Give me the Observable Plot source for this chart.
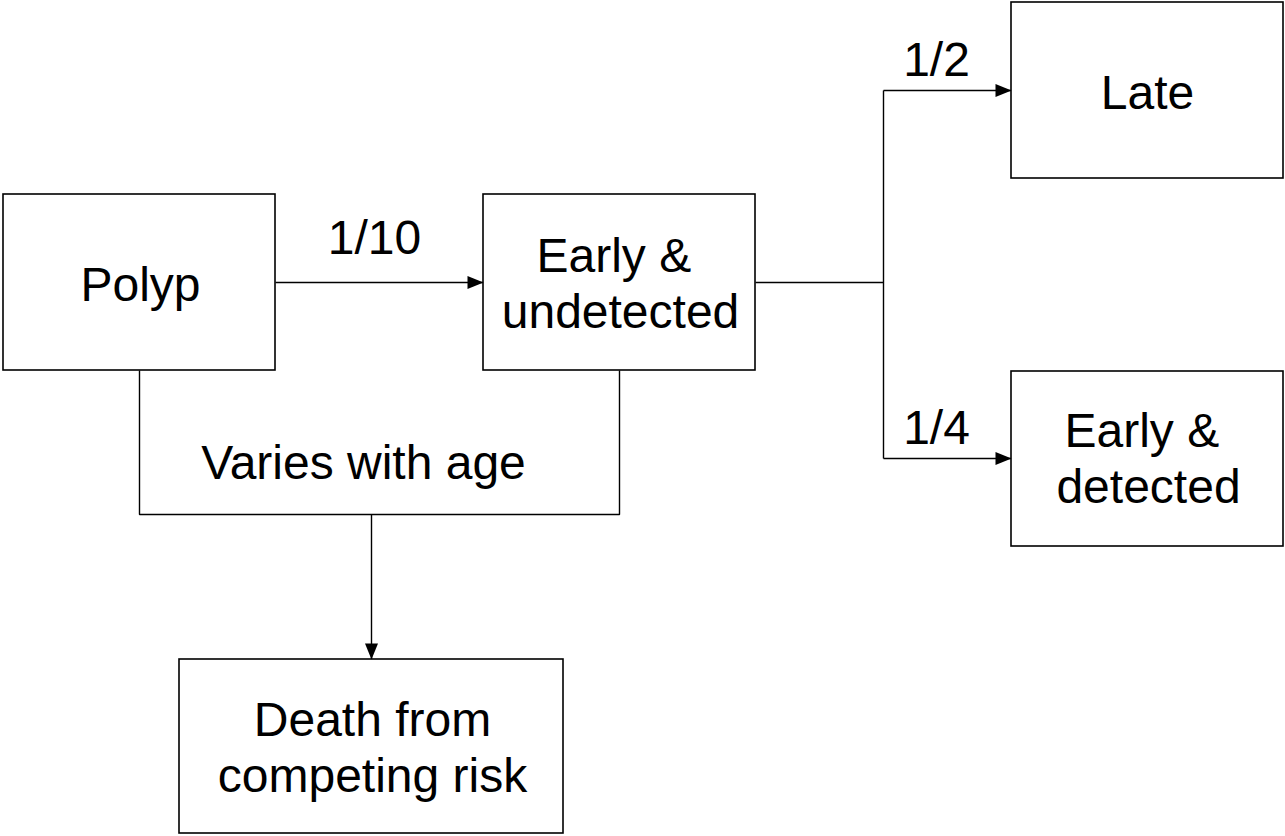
<!DOCTYPE html>
<html>
<head>
<meta charset="utf-8">
<script src="https://cdn.jsdelivr.net/npm/d3@7"></script>
<script src="https://cdn.jsdelivr.net/npm/@observablehq/plot@0.6"></script>
<style>
  html, body { margin: 0; padding: 0; background: #fff; }
  svg { display: block; }
</style>
</head>
<body>
<div id="chart"></div>
<script>
// Diagram nodes (diagram coordinate units)
const nodeIds   = ["polyp", "early_u", "late", "early_d", "death"];
const nodeX0    = [3, 483, 1011, 1011, 179];
const nodeX1    = [275, 755, 1283, 1283, 563];
const nodeY0    = [194, 194, 2, 371, 659];
const nodeY1    = [370, 370, 178, 546, 833];
const nodeLines = [["Polyp"], ["Early & ", "undetected"], ["Late"], ["Early & ", "detected"], ["Death from", "competing risk"]];
const nodeCx    = [140, 620, 1147, 1148, 372];
const nodeBase  = [300, 271, 108, 446, 735];

// Connectors (polylines) and which ones end in an arrowhead
const connectorPts = [
  [[275, 282], [483, 282]],
  [[755, 282], [883, 282]],
  [[883, 90], [883, 458]],
  [[883, 90], [1011, 90]],
  [[883, 458], [1011, 458]],
  [[139, 370], [139, 514], [619, 514], [619, 370]],
  [[371, 514], [371, 659]]
];
const connectorArrow = [90, null, null, 90, 90, null, 180];

// Transition labels
const rateLabels = ["1/10", "1/2", "1/4", "Varies with age"];
const rateX      = [374, 936, 936, 363];
const rateY      = [253, 75, 443, 478];

const lineHeight = 56;
const fontSize = 48;
const font = "'Liberation Sans', Arial, Helvetica, sans-serif";

const nodes = nodeIds.map((id, i) => ({id, x0: nodeX0[i], x1: nodeX1[i], y0: nodeY0[i], y1: nodeY1[i]}));
const nodeText = nodeIds.flatMap((id, i) => nodeLines[i].map((t, j) => ({text: t, x: nodeCx[i], y: nodeBase[i] + j * lineHeight})));
const linePts = connectorPts.flatMap((pts, i) => pts.map(([x, y]) => ({k: i, x, y})));
const heads = connectorPts.map((pts, i) => ({pt: pts[pts.length - 1], rot: connectorArrow[i]}))
  .filter(d => d.rot != null).map(d => ({x: d.pt[0], y: d.pt[1], rot: d.rot}));
const rates = rateLabels.map((t, i) => ({text: t, x: rateX[i], y: rateY[i]}));

const arrowSymbol = {
  draw(context) {
    const L = 16, W = 6.5;
    context.moveTo(0, 0);
    context.lineTo(-W, L);
    context.lineTo(W, L);
    context.closePath();
  }
};

const plot = Plot.plot({
  width: 1285,
  height: 836,
  margin: 0,
  x: {domain: [0, 1285], range: [0, 1285], axis: null},
  y: {domain: [0, 836], range: [0, 836], axis: null},
  style: {background: "#fff", fontFamily: font},
  marks: [
    Plot.line(linePts, {x: "x", y: "y", z: "k", stroke: "#000", strokeWidth: 1.4, strokeLinejoin: "miter", strokeLinecap: "butt"}),
    Plot.rect(nodes, {x1: "x0", x2: "x1", y1: "y0", y2: "y1", fill: "#fff", stroke: "#000", strokeWidth: 1.6}),
    Plot.dot(heads, {x: "x", y: "y", rotate: "rot", r: 1, symbol: arrowSymbol, fill: "#000", stroke: "none"}),
    Plot.text(nodeText, {x: "x", y: "y", text: "text", lineAnchor: "bottom", textAnchor: "middle", fontSize, fontFamily: font, fill: "#000"}),
    Plot.text(rates, {x: "x", y: "y", text: "text", lineAnchor: "bottom", textAnchor: "middle", fontSize, fontFamily: font, fill: "#000"})
  ]
});
document.getElementById("chart").appendChild(plot);
</script>
</body>
</html>
